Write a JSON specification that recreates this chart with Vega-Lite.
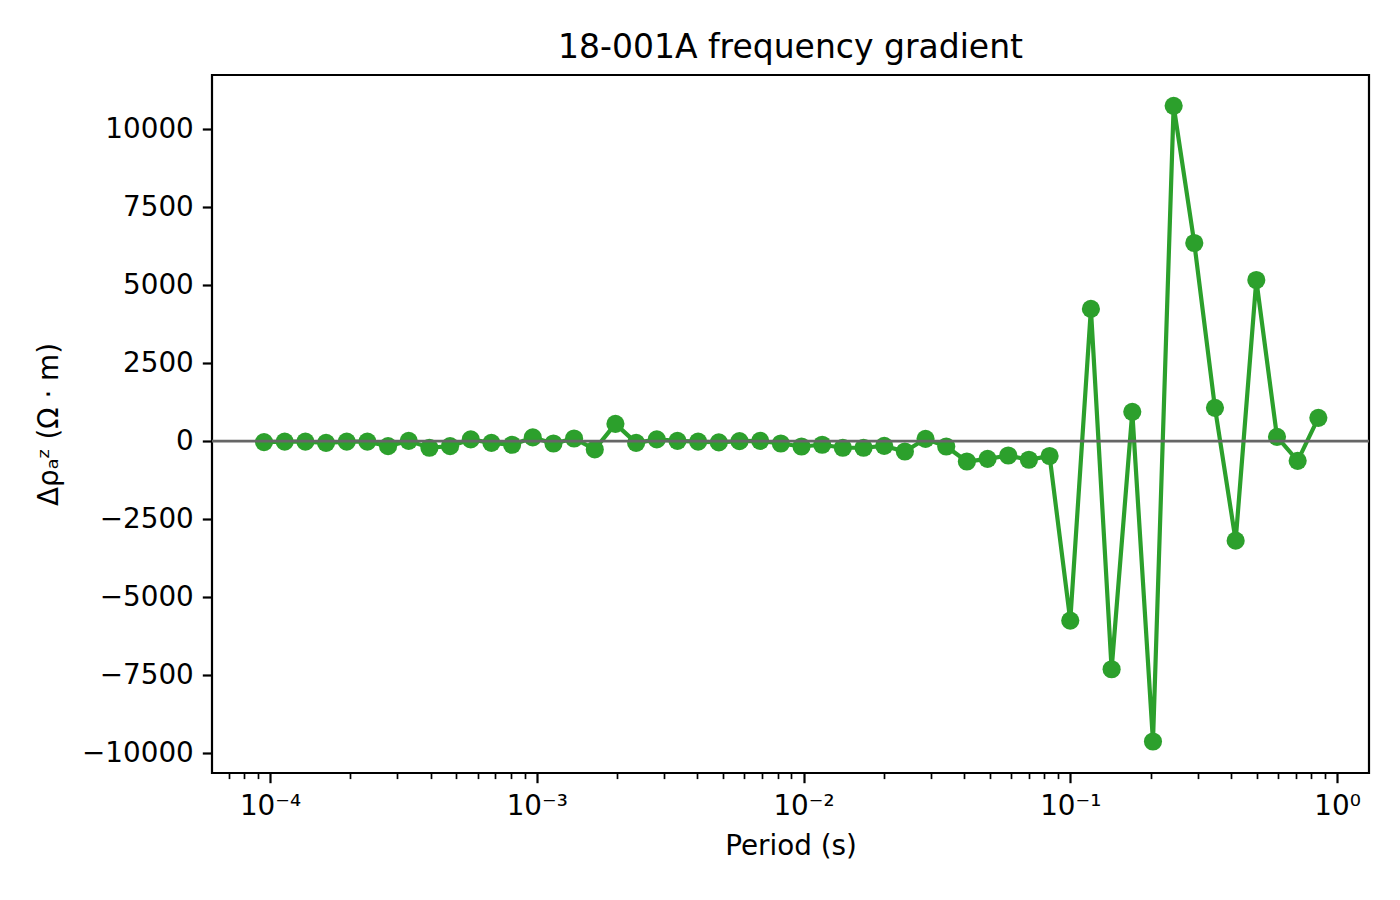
{
  "$schema": "https://vega.github.io/schema/vega-lite/v6.json",
  "description": "18-001A frequency gradient",
  "autosize": "none",
  "width": 1157,
  "height": 698,
  "padding": {"left": 212, "top": 75, "right": 31, "bottom": 127},
  "background": "white",
  "title": {
    "text": "18-001A frequency gradient",
    "anchor": "middle",
    "fontSize": 33,
    "fontWeight": "normal",
    "font": "DejaVu Sans",
    "color": "black",
    "offset": 10
  },
  "data": {
    "values": [
      {"period": 0.00009496, "drho": -30},
      {"period": 0.0001135, "drho": -15},
      {"period": 0.0001357, "drho": -15},
      {"period": 0.0001622, "drho": -55},
      {"period": 0.0001939, "drho": -15},
      {"period": 0.0002317, "drho": -15},
      {"period": 0.000277, "drho": -160},
      {"period": 0.0003311, "drho": 10},
      {"period": 0.0003958, "drho": -210},
      {"period": 0.0004732, "drho": -160},
      {"period": 0.0005656, "drho": 55},
      {"period": 0.0006761, "drho": -55},
      {"period": 0.0008082, "drho": -115},
      {"period": 0.0009661, "drho": 120},
      {"period": 0.001155, "drho": -75},
      {"period": 0.00138, "drho": 85},
      {"period": 0.00165, "drho": -265},
      {"period": 0.001972, "drho": 555},
      {"period": 0.002358, "drho": -55},
      {"period": 0.002818, "drho": 55},
      {"period": 0.003369, "drho": 10},
      {"period": 0.004027, "drho": -15},
      {"period": 0.004814, "drho": -40},
      {"period": 0.005754, "drho": 0},
      {"period": 0.006879, "drho": 10},
      {"period": 0.008222, "drho": -75},
      {"period": 0.009829, "drho": -170},
      {"period": 0.01175, "drho": -115},
      {"period": 0.01404, "drho": -210},
      {"period": 0.01679, "drho": -210},
      {"period": 0.02007, "drho": -150},
      {"period": 0.02399, "drho": -330},
      {"period": 0.02867, "drho": 75},
      {"period": 0.03428, "drho": -170},
      {"period": 0.04097, "drho": -650},
      {"period": 0.04898, "drho": -565},
      {"period": 0.05855, "drho": -460},
      {"period": 0.06998, "drho": -595},
      {"period": 0.08366, "drho": -475},
      {"period": 0.1, "drho": -5748},
      {"period": 0.1195, "drho": 4237},
      {"period": 0.1429, "drho": -7306},
      {"period": 0.1708, "drho": 940},
      {"period": 0.2042, "drho": -9620},
      {"period": 0.2441, "drho": 10742},
      {"period": 0.2917, "drho": 6348},
      {"period": 0.3487, "drho": 1068},
      {"period": 0.4169, "drho": -3188},
      {"period": 0.4983, "drho": 5164},
      {"period": 0.5957, "drho": 140},
      {"period": 0.712, "drho": -629},
      {"period": 0.8511, "drho": 748}
    ]
  },
  "encoding": {
    "x": {
      "field": "period",
      "type": "quantitative",
      "scale": {"type": "log", "domain": [0.0000606, 1.318], "nice": false},
      "axis": {
        "title": "Period (s)",
        "values": [0.00007, 0.00008, 0.00009, 0.0001, 0.0002, 0.0003, 0.0004, 0.0005, 0.0006, 0.0007, 0.0008, 0.0009, 0.001, 0.002, 0.003, 0.004, 0.005, 0.006, 0.007, 0.008, 0.009, 0.01, 0.02, 0.03, 0.04, 0.05, 0.06, 0.07, 0.08, 0.09, 0.1, 0.2, 0.3, 0.4, 0.5, 0.6, 0.7, 0.8, 0.9, 1],
        "labelExpr": "(abs(log(datum.value)/LN10 - round(log(datum.value)/LN10)) < 0.001) ? ['10⁻⁴','10⁻³','10⁻²','10⁻¹','10⁰'][round(log(datum.value)/LN10)+4] : ''",
        "tickSize": {"condition": {"test": "abs(log(datum.value)/LN10 - round(log(datum.value)/LN10)) < 0.001", "value": 9.7}, "value": 5.6},
        "tickWidth": {"condition": {"test": "abs(log(datum.value)/LN10 - round(log(datum.value)/LN10)) < 0.001", "value": 2.2}, "value": 1.7},
        "labelPadding": 10,
        "titlePadding": 12
      }
    },
    "y": {
      "field": "drho",
      "type": "quantitative",
      "scale": {"domain": [-10630, 11730], "nice": false, "zero": false},
      "axis": {
        "title": "Δρₐᶻ (Ω · m)",
        "values": [-10000, -7500, -5000, -2500, 0, 2500, 5000, 7500, 10000],
        "format": "d",
        "tickSize": 9.7,
        "tickWidth": 2.2,
        "labelPadding": 9,
        "titlePadding": 18
      }
    }
  },
  "layer": [
    {
      "mark": {"type": "line", "color": "#2ca02c", "strokeWidth": 4.2}
    },
    {
      "mark": {"type": "point", "shape": "circle", "filled": true, "color": "#2ca02c", "opacity": 1, "size": 330}
    },
    {
      "data": {"values": [{"level": 0}]},
      "mark": {"type": "rule", "color": "#666666", "strokeWidth": 2.6},
      "encoding": {"y": {"field": "level", "type": "quantitative"}, "x": null}
    }
  ],
  "config": {
    "font": "DejaVu Sans",
    "view": {"stroke": "black", "strokeWidth": 2.2},
    "axis": {
      "grid": false,
      "domain": false,
      "tickColor": "black",
      "labelColor": "black",
      "titleColor": "black",
      "labelFont": "DejaVu Sans",
      "titleFont": "DejaVu Sans",
      "labelFontSize": 27.8,
      "titleFontSize": 27.8,
      "titleFontWeight": "normal"
    }
  }
}
